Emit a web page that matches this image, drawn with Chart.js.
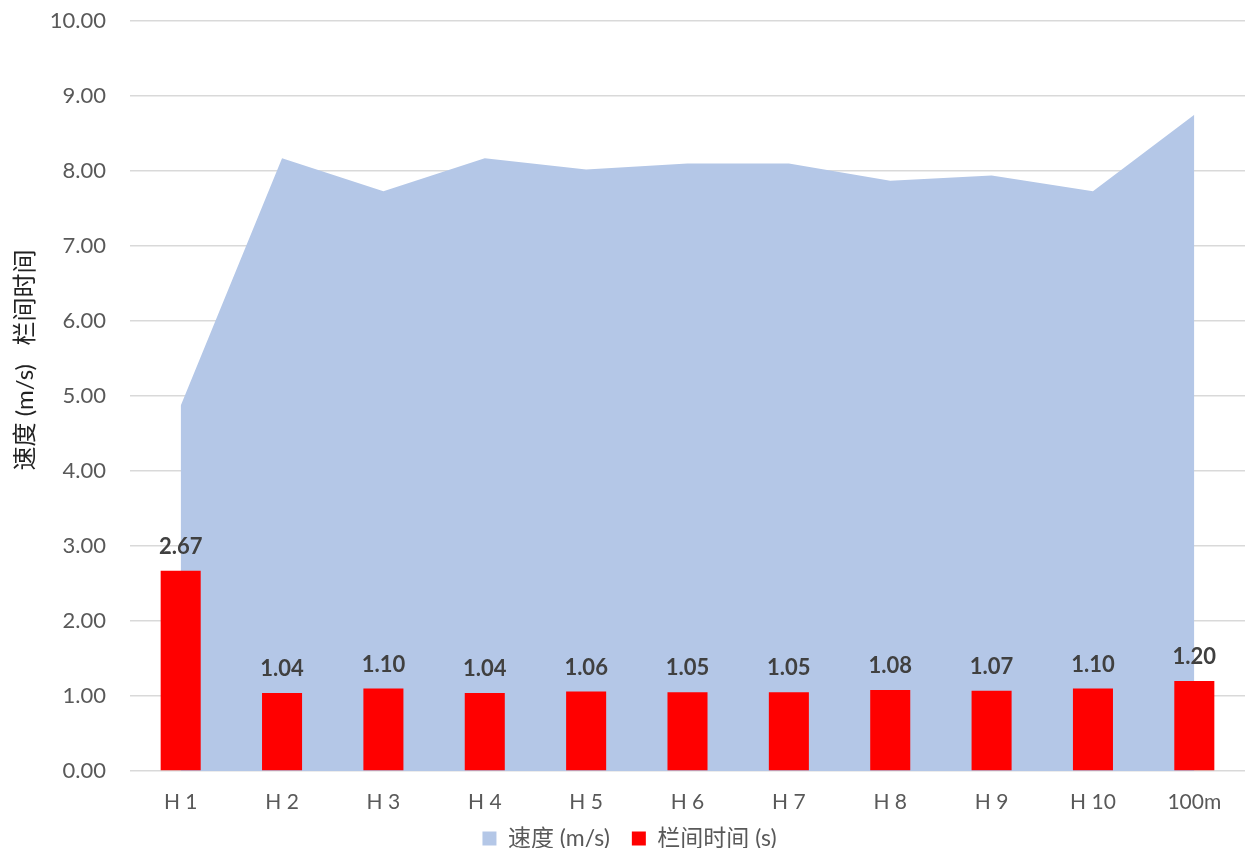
<!DOCTYPE html>
<html>
<head>
<meta charset="utf-8">
<script src="https://cdn.jsdelivr.net/npm/chart.js@4"></script>
<style>
  body { margin: 0; background: #fff; }
</style>
</head>
<body>
<canvas id="hurdleChart" width="1245" height="848"></canvas>
<script>
// hurdle splits
const categories = ['H 1', 'H 2', 'H 3', 'H 4', 'H 5', 'H 6', 'H 7', 'H 8', 'H 9', 'H 10', '100m'];
const speed = [4.87, 8.17, 7.73, 8.17, 8.02, 8.10, 8.10, 7.87, 7.94, 7.73, 8.75];
const splitTime = [2.67, 1.04, 1.10, 1.04, 1.06, 1.05, 1.05, 1.08, 1.07, 1.10, 1.20];
const yTicks = [0, 1, 2, 3, 4, 5, 6, 7, 8, 9, 10];

const FONT = 'Lato, "Noto Sans CJK SC", sans-serif';

// draws the bold value above each red bar
const barLabels = {
    id: 'barLabels',
    afterLayout(chart) {
        // x axis box is squeezed so the legend sits close; let its labels spill below
        chart.scales.x.bottom = chart.height;
    },
    afterDatasetsDraw(chart) {
        const ctx = chart.ctx;
        const meta = chart.getDatasetMeta(1);
        ctx.save();
        ctx.font = 'bold 22px ' + FONT;
        ctx.fillStyle = '#404040';
        ctx.textAlign = 'center';
        ctx.textBaseline = 'alphabetic';
        meta.data.forEach(function (bar, i) {
            ctx.fillText(splitTime[i].toFixed(2), bar.x, bar.y - 17);
        });
        ctx.restore();
    }
};

const ctx = document.getElementById('hurdleChart').getContext('2d');
new Chart(ctx, {
    data: {
        labels: categories,
        datasets: [
            {
                type: 'line',
                label: '速度 (m/s)',
                data: speed,
                fill: 'origin',
                backgroundColor: '#B4C7E7',
                borderColor: '#B4C7E7',
                borderWidth: 0,
                pointRadius: 0,
                tension: 0,
                order: 2
            },
            {
                type: 'bar',
                label: '栏间时间 (s)',
                data: splitTime,
                backgroundColor: '#FF0000',
                barPercentage: 0.395,
                categoryPercentage: 1,
                order: 1
            }
        ]
    },
    options: {
        responsive: false,
        animation: false,
        layout: { padding: { top: 21, right: 0, left: 14, bottom: 0 } },
        plugins: {
            tooltip: { enabled: false },
            legend: {
                position: 'bottom',
                maxHeight: 43,
                labels: {
                    boxWidth: 14,
                    boxHeight: 14,
                    padding: 22,
                    color: '#595959',
                    font: { family: FONT, size: 23 },
                    sort: (a, b) => a.datasetIndex - b.datasetIndex
                }
            }
        },
        scales: {
            x: {
                offset: true,
                afterFit: function (scale) { scale.height = 34; },
                grid: { display: false, drawTicks: false },
                border: { display: false },
                ticks: {
                    color: '#595959',
                    font: { family: FONT, size: 21 },
                    padding: 19
                }
            },
            y: {
                min: 0,
                max: 10,
                afterFit: function (scale) {
                    scale.width = 116;
                    scale.paddingTop = 0;
                    scale.paddingBottom = 0;
                },
                afterBuildTicks: function (scale) {
                    scale.ticks = yTicks.map(v => ({ value: v }));
                },
                grid: { color: '#D9D9D9', lineWidth: 1.5, drawTicks: false },
                border: { display: false },
                ticks: {
                    color: '#595959',
                    font: { family: FONT, size: 22 },
                    padding: 24,
                    callback: v => Number(v).toFixed(2)
                },
                title: {
                    display: true,
                    text: '\u3000\u3000\u3000速度 (m/s)   栏间时间',
                    color: '#222222',
                    font: { family: FONT, size: 24 },
                    padding: { top: -3, bottom: 0 }
                }
            }
        }
    },
    plugins: [barLabels]
});
</script>
</body>
</html>
